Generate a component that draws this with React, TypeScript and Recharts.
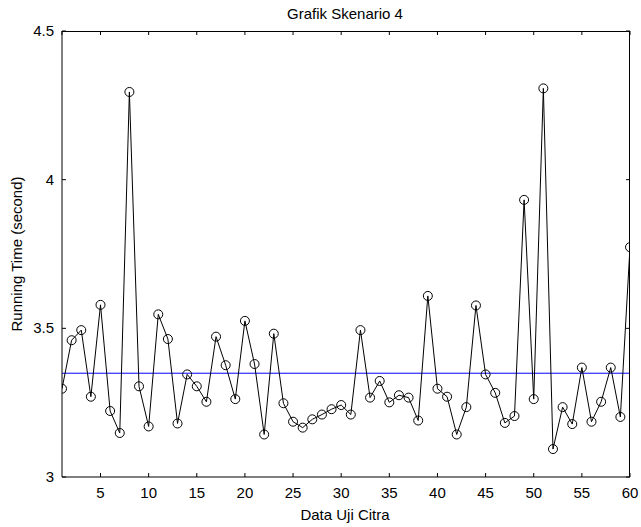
import React from "react";
import {
  LineChart,
  Line,
  XAxis,
  YAxis,
  CartesianGrid,
  ReferenceLine,
} from "recharts";

const testIndex = Array.from({ length: 60 }, (_, i) => i + 1);

const runningTime = [
  3.297, 3.46, 3.494, 3.27, 3.579, 3.222, 3.148, 4.295, 3.305, 3.17,
  3.547, 3.464, 3.18, 3.345, 3.305, 3.253, 3.472, 3.376, 3.262, 3.525,
  3.38, 3.143, 3.482, 3.248, 3.186, 3.166, 3.194, 3.21, 3.228, 3.242,
  3.21, 3.494, 3.267, 3.323, 3.251, 3.275, 3.267, 3.19, 3.609, 3.297,
  3.27, 3.143, 3.235, 3.577, 3.345, 3.283, 3.182, 3.205, 3.932, 3.262,
  4.307, 3.094, 3.235, 3.178, 3.368, 3.186, 3.253, 3.368, 3.202, 3.773,
];

const meanTime = 3.349;

const xTicks = [5, 10, 15, 20, 25, 30, 35, 40, 45, 50, 55, 60];
const yTicks = [3, 3.5, 4, 4.5];

const data = testIndex.map((idx, i) => ({ idx, time: runningTime[i] }));

const FONT = '"Liberation Sans", Arial, Helvetica, sans-serif';
const FS = 15;
const TICK = 4;

// plot box in page pixels (matches the chart margins below)
const PLOT = { left: 62, top: 31, right: 630, bottom: 477 };

const BottomTick = ({ x, y, payload }: any) => (
  <g>
    <line x1={x} y1={y} x2={x} y2={y - TICK} stroke="#000" />
    <text x={x} y={y + 21} textAnchor="middle" fontSize={FS} fontFamily={FONT} fill="#000">
      {payload.value}
    </text>
  </g>
);

const LeftTick = ({ x, y, payload }: any) => (
  <g>
    <line x1={x} y1={y} x2={x + TICK} y2={y} stroke="#000" />
    <text x={x - 8} y={y + 5} textAnchor="end" fontSize={FS} fontFamily={FONT} fill="#000">
      {payload.value}
    </text>
  </g>
);

// grid only adds inward ticks on the right and top sides
const gridH = (p: any) => {
  const right = p.x + p.width;
  return <line key={p.key} x1={right - TICK} y1={p.y1} x2={right} y2={p.y1} stroke="#000" />;
};

const gridV = (p: any) => (
  <line key={p.key} x1={p.x1} y1={p.y} x2={p.x1} y2={p.y + TICK} stroke="#000" />
);

const textStyle: React.CSSProperties = {
  position: "absolute",
  fontFamily: FONT,
  fontSize: FS,
  color: "#000",
  whiteSpace: "nowrap",
  lineHeight: 1,
};

export default function App() {
  return (
    <div
      style={{
        position: "absolute",
        left: 0,
        top: 0,
        width: 641,
        height: 527,
        background: "#fff",
      }}
    >
      <LineChart
        width={641}
        height={527}
        data={data}
        margin={{ top: PLOT.top, right: 641 - PLOT.right, bottom: 0, left: 0 }}
      >
        <CartesianGrid horizontal={gridH} vertical={gridV} stroke="#000" />
        <XAxis
          dataKey="idx"
          type="number"
          domain={[1, 60]}
          ticks={xTicks}
          allowDataOverflow
          height={527 - PLOT.bottom}
          tickSize={0}
          tickMargin={0}
          tickLine={false}
          axisLine={{ stroke: "#000" }}
          tick={<BottomTick />}
          interval={0}
        />
        <YAxis
          type="number"
          domain={[3, 4.5]}
          ticks={yTicks}
          allowDataOverflow
          width={PLOT.left}
          tickSize={0}
          tickMargin={0}
          tickLine={false}
          axisLine={{ stroke: "#000" }}
          tick={<LeftTick />}
          interval={0}
        />
        <ReferenceLine y={meanTime} stroke="#0000ff" strokeWidth={1} />
        <Line
          type="linear"
          dataKey="time"
          stroke="#000"
          strokeWidth={1}
          dot={{ r: 4.5, stroke: "#000", strokeWidth: 1, fill: "none" }}
          activeDot={false}
          isAnimationActive={false}
        />
      </LineChart>
      {/* top and right edges of the axes box */}
      <div
        style={{
          position: "absolute",
          zIndex: 10,
          left: PLOT.left,
          top: PLOT.top,
          width: PLOT.right - PLOT.left,
          height: PLOT.bottom - PLOT.top,
          boxSizing: "border-box",
          borderTop: "1px solid #000",
          borderRight: "1px solid #000",
          pointerEvents: "none",
        }}
      />
      <div style={{ ...textStyle, left: 345, top: 13, transform: "translate(-50%, -50%)" }}>
        Grafik Skenario 4
      </div>
      <div style={{ ...textStyle, left: 345, top: 514, transform: "translate(-50%, -50%)" }}>
        Data Uji Citra
      </div>
      <div
        style={{
          ...textStyle,
          left: 16,
          top: 254,
          transform: "translate(-50%, -50%) rotate(-90deg)",
        }}
      >
        Running Time (second)
      </div>
    </div>
  );
}
